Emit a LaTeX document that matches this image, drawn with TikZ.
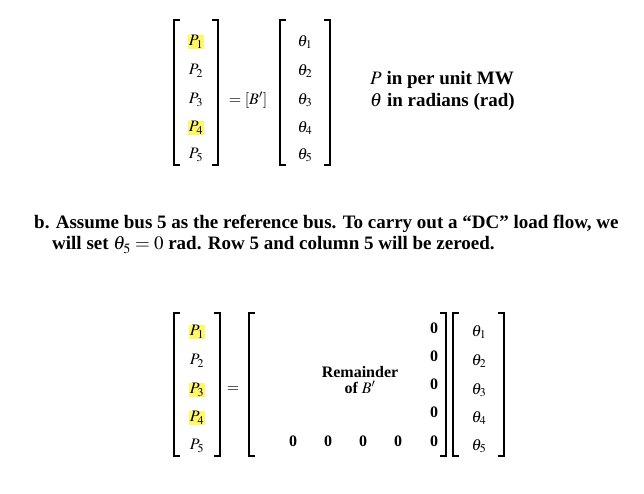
\documentclass[tikz,border=0pt]{standalone}
\usepackage{mathptmx}
\usepackage[no-math]{fontspec}
\setmainfont{Liberation Serif}
\begin{document}
\begin{tikzpicture}[x=1pt,y=-1pt,
  t/.style={font=\fontsize{16}{17}\selectfont\bfseries,inner sep=0.5pt},
  hl/.style={t,fill=yellow!60},
  br/.style={line width=1.8pt},
  ptxt/.style={font=\fontsize{19}{22}\selectfont\bfseries,anchor=west,inner sep=0pt}]
\useasboundingbox (0,0) rectangle (644,494);
\fill[white] (0,0) rectangle (644,494);
\tikzset{lb/.pic={\draw[br] (6,0) -- (0,0) -- (0,#1) -- (6,#1);},
         rb/.pic={\draw[br] (-6,0) -- (0,0) -- (0,#1) -- (-6,#1);}}
% first equation
\pic at (174,20) {lb=145}; \pic at (218,20) {rb=145};
\node[hl] (a1) at (196,42) {$P_1$};
\node[t] (a2) at (196,71) {$P_2$};
\node[t] (a3) at (196,100) {$P_3$};
\node[hl] (a4) at (196,128) {$P_4$};
\node[t] (a5) at (196,155) {$P_5$};
\node[t] (eq1) at (248,100) {$=[B']$};
\pic at (280,20) {lb=145}; \pic at (330,20) {rb=145};
\node[t] (b1) at (305,42) {$\theta_1$};
\node[t] (b2) at (305,71) {$\theta_2$};
\node[t] (b3) at (305,100) {$\theta_3$};
\node[t] (b4) at (305,128) {$\theta_4$};
\node[t] (b5) at (305,155) {$\theta_5$};
\node[ptxt] (u1) at (370,80) {$P$ in per unit MW};
\node[ptxt] (u2) at (370,102) {$\theta$ in radians (rad)};
% paragraph
\node[ptxt] (p1) at (34,224) {b. Assume bus 5 as the reference bus. To carry out a ``DC'' load flow, we};
\node[ptxt] (p2) at (52,245) {will set $\theta_5=0$ rad. Row 5 and column 5 will be zeroed.};
% second equation
\pic at (174,313) {lb=143}; \pic at (220,313) {rb=143};
\node[hl] (c1) at (197,332) {$P_1$};
\node[t] (c2) at (197,361) {$P_2$};
\node[hl] (c3) at (197,390) {$P_3$};
\node[hl] (c4) at (197,418) {$P_4$};
\node[t] (c5) at (197,446) {$P_5$};
\node[t] (eq2) at (233,390) {$=$};
\pic at (249,313) {lb=143}; \pic at (446,313) {rb=143};
\node[t] (z1) at (434,328) {0};
\node[t] (z2) at (434,356) {0};
\node[t] (z3) at (434,384) {0};
\node[t] (z4) at (434,412) {0};
\node[t] (z5) at (434,441) {0};
\node[t] (r1) at (293,441) {0};
\node[t] (r2) at (328,441) {0};
\node[t] (r3) at (363,441) {0};
\node[t] (r4) at (398,441) {0};
\node[t,align=center] (rem) at (360,380) {Remainder\\[-1pt] of $B'$};
\pic at (453,313) {lb=143}; \pic at (504,313) {rb=143};
\node[t] (d1) at (479,332) {$\theta_1$};
\node[t] (d2) at (479,361) {$\theta_2$};
\node[t] (d3) at (479,390) {$\theta_3$};
\node[t] (d4) at (479,418) {$\theta_4$};
\node[t] (d5) at (479,446) {$\theta_5$};
\end{tikzpicture}
\end{document}
